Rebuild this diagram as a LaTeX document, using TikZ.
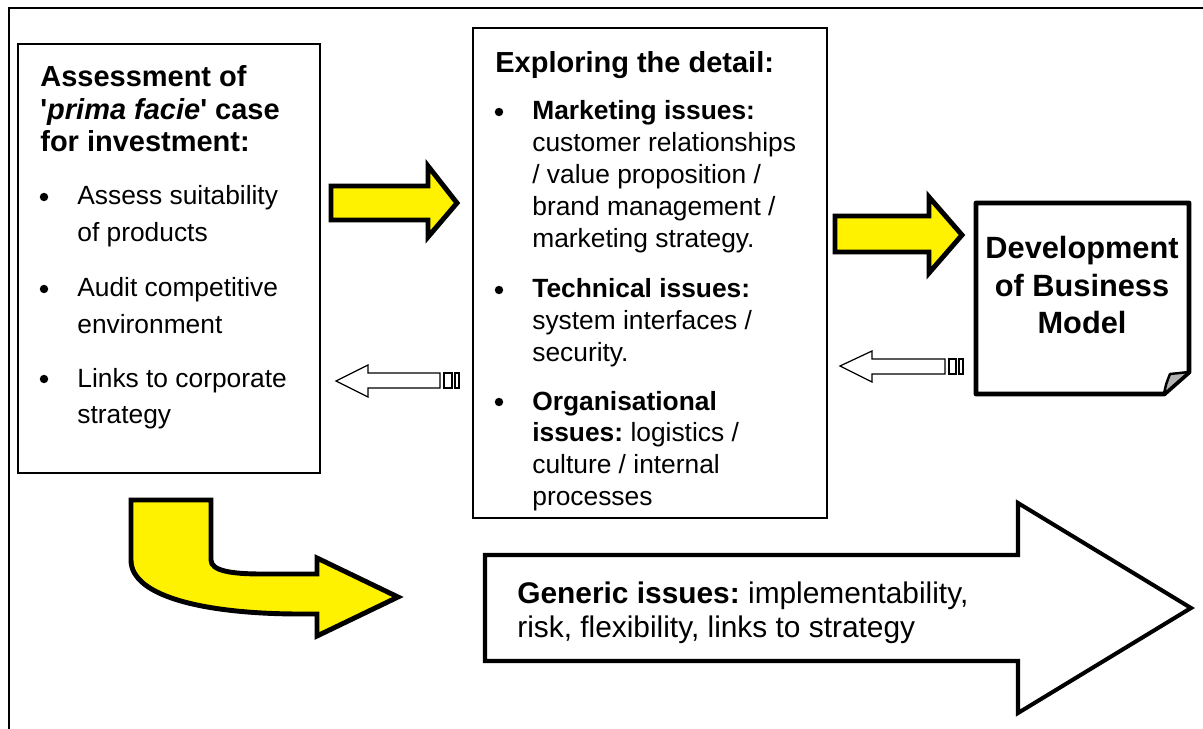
\documentclass[tikz,border=0pt]{standalone}
\usepackage{fontspec}
\setmainfont{Liberation Sans}
\frenchspacing

\begin{document}
\begin{tikzpicture}[x=0.02cm,y=-0.02cm,
    frame/.style={line width=1.1pt},
    box/.style={line width=0.85pt},
    yarrow/.style={fill=yellow, draw=black, line width=2.8pt, line join=miter},
    harrow/.style={fill=white, draw=black, line width=0.7pt},
    bigarrow/.style={fill=white, draw=black, line width=2.3pt, line join=miter},
    head/.style={anchor=base west, inner sep=0pt, align=flush left, font=\fontsize{16.5}{18.5}\selectfont\bfseries},
    litem/.style={anchor=base west, inner sep=0pt, text width=5cm, align=flush left, font=\fontsize{15}{20.5}\selectfont},
    mitem/.style={anchor=base west, inner sep=0pt, text width=6cm, align=flush left, font=\fontsize{15}{18.2}\selectfont},
    bul/.style={radius=2.4pt}]
    \useasboundingbox (0,0) rectangle (1203,729);
    \draw[frame] (9,729) -- (9,8) -- (1203,8);

    %left box
    \draw[box] (18,44) rectangle (320,473);
    \node[head] (assesshd) at (40,152) {Assessment of\\\textquotesingle\textit{prima facie}\textquotesingle{} case\\for investment:};
    \fill (44,197) circle [bul];
    \node[litem] (suit) at (77,205) {Assess suitability\\of products};
    \fill (44,289) circle [bul];
    \node[litem] (audit) at (77,297) {Audit competitive\\environment};
    \fill (44,379) circle [bul];
    \node[litem] (links) at (77,387) {Links to corporate\\strategy};

    %middle box
    \draw[box] (473,28) rectangle (827,518);
    \node[head] (explhd) at (495,73) {Exploring the detail:};
    \fill (499,112) circle [bul];
    \node[mitem] (mkt) at (532,120) {\textbf{Marketing issues:}\\customer relationships\\/ value proposition /\\brand management /\\marketing strategy.};
    \fill (499,290) circle [bul];
    \node[mitem] (tech) at (532,298) {\textbf{Technical issues:}\\system interfaces /\\security.};
    \fill (499,402) circle [bul];
    \node[mitem] (org) at (532,410) {\textbf{Organisational}\\\textbf{issues:} logistics /\\culture / internal\\processes};

    %business model page
    \draw[line width=2.8pt, line join=round] (976,203) -- (1189,203) -- (1189,372) -- (1164,394) -- (976,394) -- cycle;
    \draw[fill=gray!60, line width=1.4pt, line join=round] (1164,394) .. controls (1166,384) .. (1170,374) -- (1189,372) -- cycle;
    \node[anchor=base, inner sep=0pt, align=center, font=\fontsize{17.5}{21.6}\selectfont\bfseries] (bizmodel) at (1082,334) {Development\\of Business\\Model};

    %yellow arrows
    \draw[yarrow] (331,186) -- (428,186) -- (428,166) -- (457,203) -- (428,237) -- (428,220) -- (331,220) -- cycle;
    \draw[yarrow] (835,216) -- (929,216) -- (929,197) -- (962,235) -- (929,273) -- (929,252) -- (835,252) -- cycle;
    \draw[yarrow] (131,500) -- (211,500) -- (211,560) .. controls (211,571) and (232,574) .. (262,574) -- (317,574) -- (317,558) -- (398,597) -- (317,636) -- (317,614) -- (300,614) .. controls (210,614) and (131,598) .. (131,560) -- cycle;

    %feedback arrows
    \draw[harrow] (336,381) -- (368,365) -- (368,373) -- (440,373) -- (440,388) -- (368,388) -- (368,397) -- cycle;
    \draw[harrow] (444,373) rectangle (452,388);
    \draw[harrow] (455,373) rectangle (459,388);
    \draw[harrow] (840,366) -- (872,351) -- (872,359) -- (945,359) -- (945,374) -- (872,374) -- (872,382) -- cycle;
    \draw[harrow] (949,359) rectangle (956,374);
    \draw[harrow] (959,359) rectangle (963,374);

    %generic issues
    \draw[bigarrow] (485,555) -- (1018,555) -- (1018,503) -- (1191,608) -- (1018,713) -- (1018,661) -- (485,661) -- cycle;
    \node[anchor=base west, inner sep=0pt, align=flush left, font=\fontsize{17}{18.8}\selectfont] (generic) at (517,637) {\textbf{Generic issues:} implementability,\\risk, flexibility, links to strategy};
\end{tikzpicture}
\end{document}
